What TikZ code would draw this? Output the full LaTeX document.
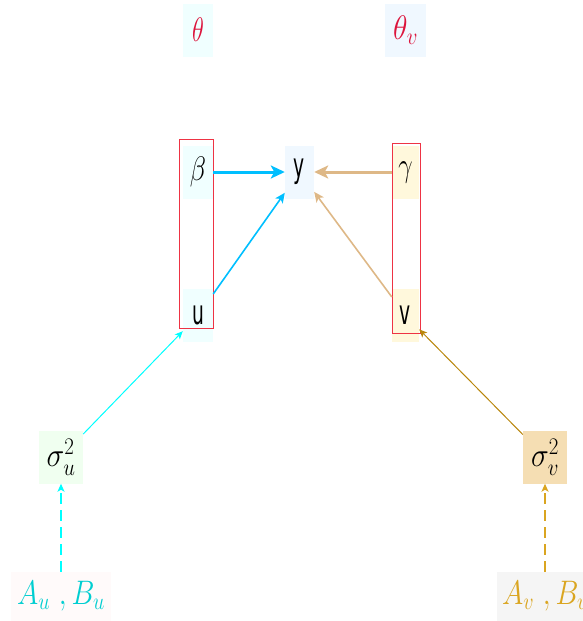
\RequirePackage{fix-cm}
\documentclass[tikz,border=0pt]{standalone}
\usepackage{graphicx}
\usepackage{fontspec}
\newfontfamily\djv{DejaVu Sans}
\usetikzlibrary{arrows.meta}
\definecolor{cAzure}{HTML}{F0FFFF}
\definecolor{cAlice}{HTML}{F0F8FF}
\definecolor{cCorn}{HTML}{FFF8DC}
\definecolor{cHoney}{HTML}{F0FFF0}
\definecolor{cWheat}{HTML}{F5DEB3}
\definecolor{cSnow}{HTML}{FFFAFA}
\definecolor{cSmoke}{HTML}{F5F5F5}
\definecolor{cCrimson}{HTML}{DC143C}
\definecolor{cSky}{HTML}{00BFFF}
\definecolor{cBurly}{HTML}{DEB887}
\definecolor{cCyan}{HTML}{00FFFF}
\definecolor{cDGold}{HTML}{B8860B}
\definecolor{cGold}{HTML}{DAA520}
\definecolor{cTurq}{HTML}{00CED1}
\definecolor{cFrame}{HTML}{EE3344}
\newcommand{\nm}[2][0.75]{\scalebox{#1}[1]{$#2$}}
\newcommand{\sfl}[1]{\scalebox{0.55}[1]{\djv #1}}
\tikzset{
  box/.style={rectangle, inner sep=0pt, minimum height=53pt, font=\fontsize{34}{40}\selectfont},
  thickarr/.style={line width=3pt, -{Stealth[length=14pt,width=13pt,inset=3.5pt]}},
  midarr/.style={line width=1.6pt, -{Stealth[length=10pt,width=9pt,inset=2.5pt]}},
  thinarr/.style={line width=1pt, -{Stealth[length=8pt,width=7pt,inset=2pt]}},
  dasharr/.style={line width=1.5pt, dash pattern=on 11pt off 6pt, -{Stealth[length=8pt,width=7pt,inset=2pt]}},
  frame/.style={draw=cFrame, line width=1pt},
}
\begin{document}
\begin{tikzpicture}[x=1pt,y=-1pt]
\useasboundingbox (0,0) rectangle (582,621);
\node[box, fill=cAzure, minimum width=30pt, text=cCrimson] (theta) at (198,30) {\nm[0.72]{\theta}};
\node[box, fill=cAlice, minimum width=41pt, text=cCrimson] (thetav) at (405.5,30) {\nm[0.88]{\theta_v}};
\node[box, fill=cAzure, minimum width=30pt] (beta) at (198,172) {\nm[0.78]{\beta}};
\node[box, fill=cAlice, minimum width=29pt] (y) at (299.5,172) {\sfl{y}};
\node[box, fill=cCorn, minimum width=27pt] (gamma) at (405.5,172) {\nm[0.75]{\gamma}};
\node[box, fill=cAzure, minimum width=30pt] (u) at (198,315.5) {\sfl{u}};
\node[box, fill=cCorn, minimum width=27pt] (v) at (405.5,315.5) {\sfl{v}};
\node[box, fill=cHoney, minimum width=44pt] (su) at (61,457) {\nm[0.88]{\sigma_u^2}};
\node[box, fill=cWheat, minimum width=44pt] (sv) at (545,457) {\nm[0.88]{\sigma_v^2}};
\node[box, fill=cSnow, minimum width=100pt, minimum height=49pt, text=cTurq] (ABu) at (61,596.5) {\nm[0.85]{A_u\ ,B_u}};
\node[box, fill=cSmoke, minimum width=96pt, minimum height=49pt, text=cGold] (ABv) at (545,596.5) {\nm[0.85]{A_v\ ,B_v}};
\draw[frame] (179.5,139.5) rectangle (213.5,328.5);
\draw[frame] (392.5,143.5) rectangle (420.5,333.5);
\draw[thickarr, cSky] (beta) -- (y);
\draw[midarr, cSky] (u) -- (y);
\draw[thickarr, cBurly] (gamma) -- (y);
\draw[midarr, cBurly] (v) -- (y);
\draw[thinarr, cCyan] (su) -- (u);
\draw[thinarr, cDGold] (sv) -- (v);
\draw[dasharr, cCyan] (ABu) -- (su);
\draw[dasharr, cGold] (ABv) -- (sv);
\end{tikzpicture}
\end{document}
